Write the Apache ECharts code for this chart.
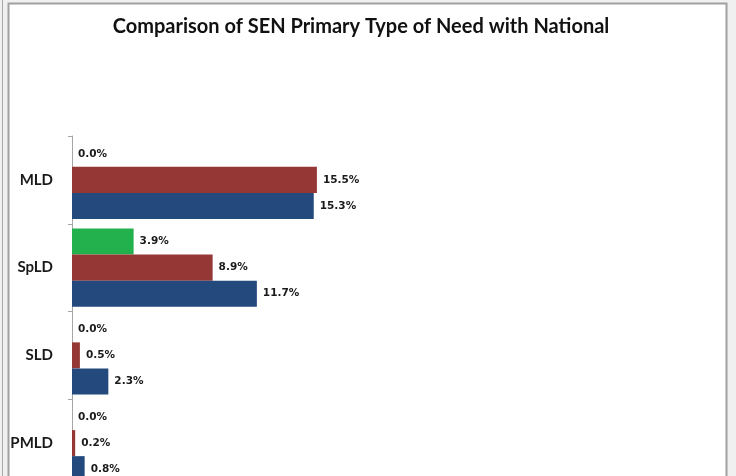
<!DOCTYPE html>
<html>
<head>
<meta charset="utf-8">
<script src="https://cdn.jsdelivr.net/npm/echarts@6/dist/echarts.min.js"></script>
<style>
  html, body { margin: 0; padding: 0; background: #f0f0f0; overflow: hidden; }
  #frame { width: 736px; height: 476px; overflow: hidden; }
  #chart { width: 736px; height: 520px; }
</style>
</head>
<body>
<div id="frame"><div id="chart"></div></div>
<script>
// Primary type of need categories, top to bottom
var categories = ['MLD', 'SpLD', 'SLD', 'PMLD'];
// Percentage of SEN pupils by primary need
var schoolValues = [0.0, 3.9, 0.0, 0.0];
var localValues = [15.5, 8.9, 0.5, 0.2];
var nationalValues = [15.3, 11.7, 2.3, 0.8];

var FONT = 'Lato';
var chart = echarts.init(document.getElementById('chart'), null, { renderer: 'canvas' });

function barSeries(name, values, color) {
  return {
    name: name,
    type: 'bar',
    data: values,
    barGap: '0%',
    barCategoryGap: '11%',
    itemStyle: { color: color },
    label: {
      show: true,
      position: 'right',
      distance: 6,
      formatter: function (p) { return p.value.toFixed(1) + '%'; },
      fontFamily: 'DejaVu Sans',
      fontWeight: 'bold',
      fontSize: 10.5,
      color: '#1a1a1a'
    }
  };
}

chart.setOption({
  animation: false,
  backgroundColor: '#f0f0f0',
  graphic: [
    { type: 'line', shape: { x1: 2.5, y1: 0, x2: 2.5, y2: 520 }, style: { stroke: '#a8a8a8', lineWidth: 1 }, z: -10 },
    { type: 'rect', shape: { x: 8.5, y: 3.5, width: 718, height: 540 }, style: { fill: '#ffffff', stroke: '#a0a0a0', lineWidth: 2 }, z: -10 }
  ],
  title: {
    text: 'Comparison of SEN Primary Type of Need with National',
    left: 356,
    textAlign: 'center',
    top: 12,
    textStyle: { fontFamily: FONT, fontWeight: 'bold', fontSize: 20, color: '#111111' }
  },
  grid: { left: 72, top: 136, width: 632, height: 351, containLabel: false },
  xAxis: {
    type: 'value',
    min: 0,
    max: 40,
    show: false
  },
  yAxis: {
    type: 'category',
    data: categories,
    inverse: true,
    axisLine: { show: true, lineStyle: { color: '#a6a6a6', width: 1 } },
    axisTick: { show: true, length: 4, lineStyle: { color: '#a6a6a6' } },
    axisLabel: { margin: 19, fontFamily: FONT, fontWeight: 'bold', fontSize: 15, color: '#1a1a1a' }
  },
  series: [
    barSeries('School', schoolValues, '#22b14c'),
    barSeries('Local Authority', localValues, '#953735'),
    barSeries('National', nationalValues, '#23497d')
  ]
});
</script>
</body>
</html>
